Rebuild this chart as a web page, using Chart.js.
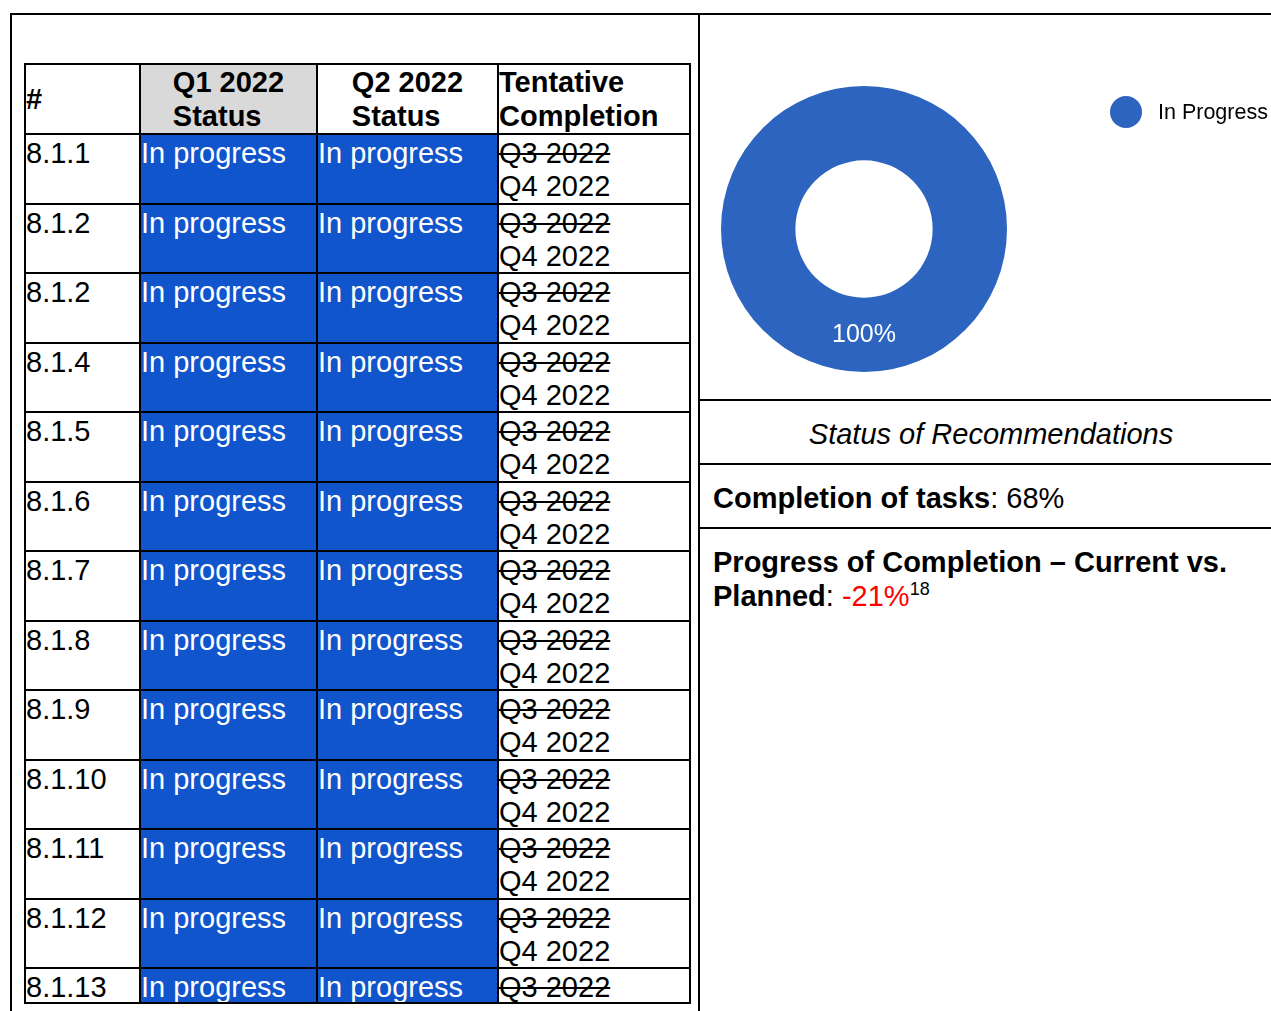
<!DOCTYPE html>
<html>
<head>
<meta charset="utf-8">
<script src="https://cdn.jsdelivr.net/npm/chart.js@4/dist/chart.umd.min.js"></script>
<style>
  html, body { margin: 0; padding: 0; background: #fff; }
  body {
    width: 1271px; height: 1011px; overflow: hidden; position: relative;
    font-family: 'Liberation Sans', Arial, sans-serif; color: #000;
  }
  .line { position: absolute; background: #000; }
  #grid {
    position: absolute; left: 24px; top: 63px;
    display: grid;
    grid-template-columns: 115px 177px 181px 192px;
    grid-template-rows: 70px repeat(12, 69.5px) 35px;
    border-left: 2px solid #000; border-top: 2px solid #000;
    box-sizing: content-box;
  }
  #grid > div {
    border-right: 2px solid #000; border-bottom: 2px solid #000;
    box-sizing: border-box; font-size: 29px; line-height: 33px;
    padding: 2px 0 0 0; overflow: hidden; white-space: nowrap;
  }
  #grid > div.hd { font-weight: bold; line-height: 34px; display: flex; flex-direction: column; justify-content: center; padding: 0; }
  #grid > div.hd.c { align-items: center; }
  #grid > div.gray { background: #d9d9d9; }
  #grid > div.blue { background: #1155cc; color: #fff; }
  .strike { text-decoration: line-through; }
  .rtext { position: absolute; font-size: 29px; line-height: 34px; white-space: nowrap; }
  #legend { position: absolute; left: 1110px; top: 96px; display: flex; align-items: center; }
  #legend .dot { width: 32px; height: 32px; border-radius: 50%; background: #2d64bf; }
  #legend span { margin-left: 16px; font-size: 21.5px; }
  #chartBox { position: absolute; left: 700px; top: 15px; }
</style>
</head>
<body>
<!-- outer frame -->
<div class="line" style="left:10px; top:13px; width:1270px; height:2px;"></div>
<div class="line" style="left:10px; top:13px; width:2px; height:1000px;"></div>
<div class="line" style="left:698px; top:13px; width:2px; height:1000px;"></div>
<div class="line" style="left:700px; top:399px; width:580px; height:2px;"></div>
<div class="line" style="left:700px; top:463px; width:580px; height:2px;"></div>
<div class="line" style="left:700px; top:527px; width:580px; height:2px;"></div>

<div id="grid"></div>

<div id="chartBox"><canvas id="chart-status" width="571" height="385"></canvas></div>
<div id="legend"><div class="dot"></div><span>In Progress</span></div>

<div class="rtext" style="left:700px; width:582px; top:417px; text-align:center; font-style:italic;">Status of Recommendations</div>
<div class="rtext" style="left:713px; top:481px;"><b>Completion of tasks</b>: 68%</div>
<div class="rtext" style="left:713px; top:545px;"><b>Progress of Completion – Current vs.</b></div>
<div class="rtext" style="left:713px; top:579px;"><b>Planned</b>: <span style="color:#ff0000;">-21%</span><sup style="font-size:18px; vertical-align:0; position:relative; top:-11px;">18</sup></div>

<script>
// ---- table data ----
const recIds = ['8.1.1', '8.1.2', '8.1.2', '8.1.4', '8.1.5', '8.1.6', '8.1.7', '8.1.8', '8.1.9', '8.1.10', '8.1.11', '8.1.12', '8.1.13'];
const q1Status = Array(13).fill('In progress');
const q2Status = Array(13).fill('In progress');
const oldTarget = 'Q3 2022';
const newTarget = 'Q4 2022';
const headers = ['#', 'Q1 2022<br>Status', 'Q2 2022<br>Status', 'Tentative<br>Completion'];

// ---- chart data ----
const statusLabels = ['In Progress'];
const statusValues = [13];
const statusColors = ['#2d64bf'];

// build table
const grid = document.getElementById('grid');
function cell(html, cls) {
  const d = document.createElement('div');
  d.className = cls || '';
  d.innerHTML = html;
  grid.appendChild(d);
}
cell(headers[0], 'hd');
cell(headers[1], 'hd c gray');
cell(headers[2], 'hd c');
cell(headers[3], 'hd');
recIds.forEach((id, i) => {
  cell(id);
  cell(q1Status[i], 'blue');
  cell(q2Status[i], 'blue');
  const last = i === recIds.length - 1;
  cell('<span class="strike">' + oldTarget + '</span>' + (last ? '' : '<br>' + newTarget));
});

// label in middle of ring, at the bottom
const ringLabel = {
  id: 'ringLabel',
  afterDatasetsDraw(chart) {
    const meta = chart.getDatasetMeta(0);
    const total = statusValues.reduce((a, b) => a + b, 0);
    const ctx = chart.ctx;
    meta.data.forEach((arc, i) => {
      const p = arc.getProps(['x', 'y', 'innerRadius', 'outerRadius', 'startAngle', 'endAngle']);
      const r = (p.innerRadius + p.outerRadius) / 2;
      let a = (p.startAngle + p.endAngle) / 2;
      if (statusValues.length === 1) a = Math.PI / 2;
      ctx.save();
      ctx.fillStyle = '#fff';
      ctx.font = "25px 'Liberation Sans', Arial, sans-serif";
      ctx.textAlign = 'center';
      ctx.textBaseline = 'middle';
      ctx.fillText(Math.round(statusValues[i] / total * 100) + '%', p.x + r * Math.cos(a), p.y + r * Math.sin(a));
      ctx.restore();
    });
  },
};

new Chart(document.getElementById('chart-status'), {
  type: 'doughnut',
  data: {
    labels: statusLabels,
    datasets: [{
      data: statusValues,
      backgroundColor: statusColors,
      borderWidth: 0,
    }],
  },
  options: {
    responsive: false,
    animation: false,
    cutout: '48%',
    layout: { padding: { left: 21, top: 71, right: 264, bottom: 28 } },
    plugins: { legend: { display: false }, tooltip: { enabled: false } },
  },
  plugins: [ringLabel],
});
</script>
</body>
</html>
